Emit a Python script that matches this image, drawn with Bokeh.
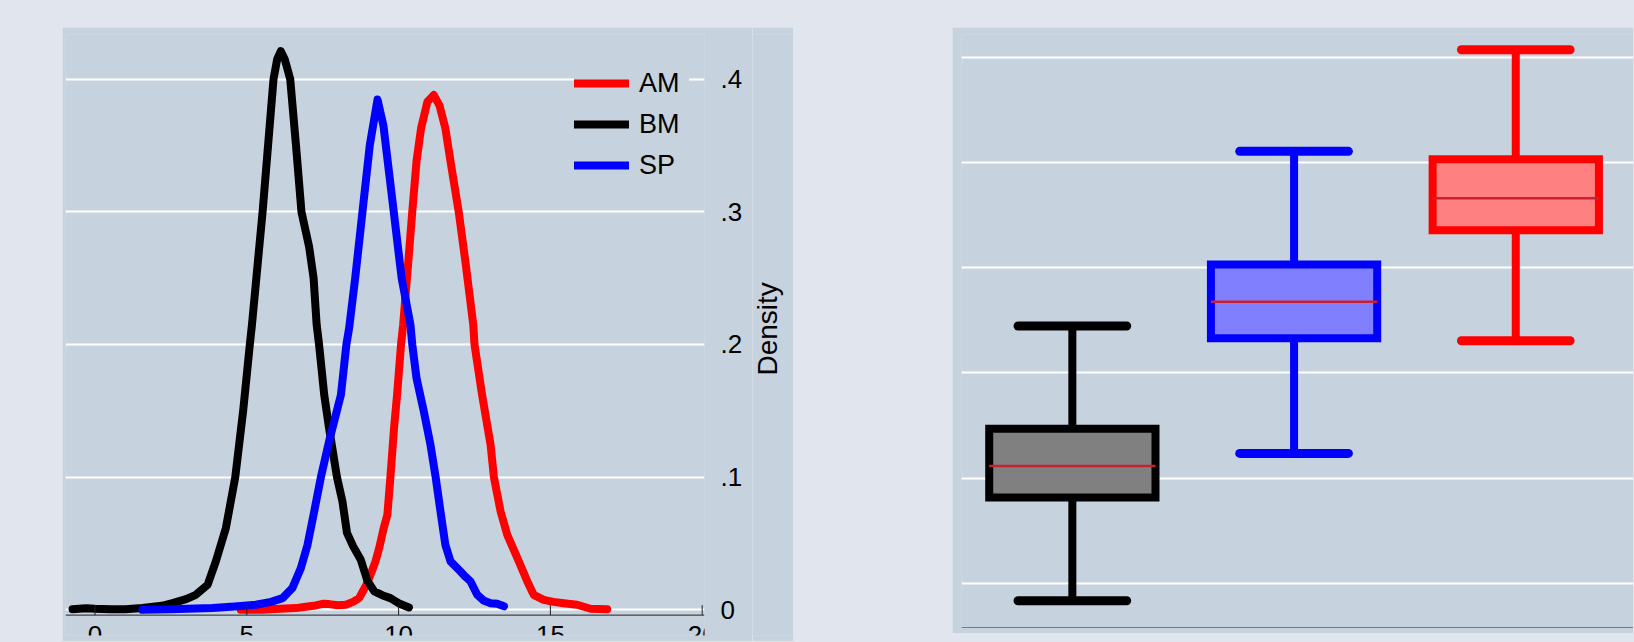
import numpy as np
from bokeh.plotting import figure
from bokeh.models import (FixedTicker, CustomJSTickFormatter, Legend, LegendItem,
                          Span, ColumnDataSource, Range1d, Spacer)
from bokeh.layouts import row, column
from bokeh.embed import file_html
from bokeh.resources import INLINE
from bokeh.core.properties import value

PANEL = "#c6d2de"
OUTER = "#e1e6ee"
FONT = "Liberation Sans"

# ---------------- data: kernel densities ----------------
am_x = [4.8, 5.52, 6.1, 6.61, 7.0, 7.27, 7.5, 7.71, 8.0, 8.26, 8.5, 8.7, 8.94, 9.1, 9.24,
        9.36, 9.51, 9.63, 9.73, 9.85, 9.95, 10.08, 10.15, 10.32, 10.45, 10.59, 10.74, 10.95,
        11.16, 11.35, 11.54, 11.71, 11.98, 12.2, 12.46, 12.5, 12.75, 13.03, 13.14, 13.36,
        13.58, 13.96, 14.24, 14.45, 14.78, 15.1, 15.44, 15.88, 16.32, 16.87]
am_y = [0.0, 0.0, 0.0008, 0.0013, 0.0025, 0.0033, 0.0045, 0.0043, 0.0035, 0.0038, 0.006,
        0.0088, 0.0189, 0.028, 0.0365, 0.0465, 0.0616, 0.0716, 0.1, 0.137, 0.162, 0.2,
        0.2148, 0.2625, 0.3, 0.338, 0.363, 0.383, 0.388, 0.38, 0.363, 0.338, 0.3, 0.2625,
        0.2148, 0.2, 0.162, 0.1244, 0.1, 0.0741, 0.0565, 0.0365, 0.0214, 0.0113, 0.0075,
        0.006, 0.005, 0.0038, 0.0008, 0.0005]

bm_x = [-0.74, -0.3, 0.0, 0.5, 1.0, 1.56, 2.2, 2.55, 3.0, 3.32, 3.71, 3.98, 4.31, 4.62,
        4.88, 5.1, 5.17, 5.52, 5.88, 6.0, 6.12, 6.25, 6.43, 6.62, 6.8, 7.05, 7.2, 7.3,
        7.38, 7.55, 7.71, 7.97, 8.15, 8.3, 8.5, 8.75, 8.97, 9.2, 9.46, 9.73, 10.0, 10.34]
bm_y = [0.0005, 0.0012, 0.0008, 0.0005, 0.0005, 0.0013, 0.003, 0.005, 0.008, 0.0113,
        0.0189, 0.0365, 0.0616, 0.1, 0.15, 0.2, 0.215, 0.3, 0.4, 0.415, 0.421, 0.415, 0.4,
        0.35, 0.3, 0.274, 0.25, 0.215, 0.2, 0.162, 0.137, 0.1, 0.0817, 0.058, 0.048, 0.038,
        0.022, 0.0139, 0.011, 0.0088, 0.005, 0.0018]

sp_x = [1.56, 2.5, 3.87, 4.6, 5.3, 5.8, 6.18, 6.5, 6.78, 7.0, 7.22, 7.44, 7.71, 7.9, 8.1,
        8.28, 8.37, 8.57, 8.81, 9.05, 9.305, 9.5, 9.84, 10.1, 10.39, 10.45, 10.59, 10.83,
        11.05, 11.22, 11.38, 11.54, 11.71, 12.04, 12.2, 12.37, 12.59, 12.8, 13.03, 13.25, 13.47]
sp_y = [0.0, 0.0005, 0.0013, 0.0025, 0.0038, 0.006, 0.0088, 0.0164, 0.0314, 0.049, 0.0741,
        0.1, 0.127, 0.144, 0.162, 0.2, 0.2123, 0.25, 0.3, 0.35, 0.3846, 0.365, 0.3, 0.25,
        0.2148, 0.2, 0.1746, 0.1495, 0.1244, 0.1, 0.0741, 0.049, 0.0365, 0.0289, 0.025,
        0.0214, 0.0113, 0.007, 0.005, 0.0045, 0.0026]

density_ticks = [0, 0.1, 0.2, 0.3, 0.4]
density_tick_labels = ["0", ".1", ".2", ".3", ".4"]
x_ticks = [0, 5, 10, 15, 20]
x_tick_labels = ["0", "5", "10", "15", "20"]
y_title = "Density"

# ---------------- data: box plots ----------------
groups = ["BM", "SP", "AM"]
group_pos = [1, 2, 3]
lower_adj = [3.67, 6.47, 8.61]
q1 = [5.63, 8.66, 10.71]
median = [6.23, 9.35, 11.32]
q3 = [6.94, 10.06, 12.06]
upper_adj = [8.89, 12.21, 14.14]
box_line = ["#000000", "#0000ff", "#ff0000"]
box_fill = ["#808080", "#8080ff", "#ff8080"]
box_grid_ticks = [4, 6, 8, 10, 12, 14]

# ---------------- left: densities ----------------
PX_PER_UNIT = 1327.8          # vertical pixels per density unit
yr = Range1d(-0.01936, 0.43363)
AXIS_Y = -5.3 / PX_PER_UNIT   # x-axis line sits just under the zero grid line
TICK_LEN = 10 / PX_PER_UNIT
LABEL_Y = -16.3 / PX_PER_UNIT

p1 = figure(width=690, height=614, x_range=Range1d(-0.972, 20.076), y_range=yr,
            y_axis_location="right", x_axis_location=None, title=None,
            output_backend="svg", toolbar_location=None, min_border=0,
            min_border_left=3, min_border_right=48, min_border_top=7, min_border_bottom=0)
p1.background_fill_color = PANEL
p1.border_fill_color = PANEL
p1.outline_line_color = None

p1.xgrid.visible = False
p1.ygrid.ticker = FixedTicker(ticks=density_ticks)
p1.ygrid.grid_line_color = "white"
p1.ygrid.grid_line_width = 2

lw = 8
r_am = p1.line(am_x, am_y, line_color="#ff0000", line_width=lw, line_join="round", line_cap="round")
r_bm = p1.line(bm_x, bm_y, line_color="#000000", line_width=lw, line_join="round", line_cap="round")
r_sp = p1.line(sp_x, sp_y, line_color="#0000ff", line_width=lw, line_join="round", line_cap="round")

ya = p1.yaxis[0]
ya.ticker = FixedTicker(ticks=density_ticks)
ya.formatter = CustomJSTickFormatter(args=dict(tvals=density_ticks, tlabs=density_tick_labels),
    code="const i = tvals.findIndex(t => Math.abs(t - tick) < 1e-9); return i >= 0 ? tlabs[i] : '';")
ya.axis_line_color = None
ya.major_tick_line_color = None
ya.minor_tick_line_color = None
ya.major_label_standoff = 10
ya.major_label_text_font = FONT
ya.major_label_text_font_size = "26px"
ya.major_label_text_color = "#000000"

# x axis: line, inward ticks and (partly cropped) tick labels
p1.add_layout(Span(location=AXIS_Y, dimension="width", line_color="#222222", line_width=1))
p1.segment(x0=x_ticks, x1=x_ticks, y0=[AXIS_Y] * len(x_ticks),
           y1=[AXIS_Y + TICK_LEN] * len(x_ticks), line_color="#222222", line_width=1)
p1.text(x=x_ticks, y=[LABEL_Y] * len(x_ticks), text=x_tick_labels,
        text_font=value(FONT), text_font_size="26px", text_color="#000000",
        text_align="center", text_baseline="top")

legend = Legend(items=[LegendItem(label="AM", renderers=[r_am]),
                       LegendItem(label="BM", renderers=[r_bm]),
                       LegendItem(label="SP", renderers=[r_sp])],
                location=(509, 452), orientation="vertical",
                glyph_width=55, glyph_height=36, label_height=36, label_width=50,
                label_standoff=10, spacing=5, padding=8, margin=0,
                label_text_font=FONT, label_text_font_size="27px", label_text_color="#000000",
                background_fill_color=PANEL, background_fill_alpha=1.0,
                border_line_color=None)
p1.add_layout(legend)

# narrow strip holding the y-axis title (reads bottom-to-top)
p1b = figure(width=41, height=614, x_range=Range1d(0, 1), y_range=yr,
             x_axis_location=None, y_axis_location=None, title=None,
             output_backend="svg", toolbar_location=None, min_border=0,
             min_border_left=0, min_border_right=0, min_border_top=7, min_border_bottom=0)
p1b.background_fill_color = PANEL
p1b.border_fill_color = PANEL
p1b.outline_line_color = None
p1b.grid.visible = False
p1b.text(x=[0.37], y=[0.2118], text=[y_title], angle=np.pi / 2,
         text_font=value(FONT), text_font_size="28px", text_color="#000000",
         text_align="center", text_baseline="middle")

# ---------------- right: box plots ----------------
p2 = figure(width=681, height=606, x_range=Range1d(0.5, 3.531),
            y_range=Range1d(3.162, 14.430), output_backend="svg", toolbar_location=None,
            x_axis_location=None, y_axis_location=None, title=None, min_border=0,
            min_border_left=9, min_border_right=0, min_border_top=0, min_border_bottom=6)
p2.background_fill_color = PANEL
p2.border_fill_color = PANEL
p2.outline_line_color = None
p2.xgrid.visible = False
p2.ygrid.ticker = FixedTicker(ticks=box_grid_ticks)
p2.ygrid.grid_line_color = "white"
p2.ygrid.grid_line_width = 2
p2.add_layout(Span(location=p2.y_range.start, dimension="width",
                   line_color="#222222", line_width=1))

bsrc = ColumnDataSource(dict(g=group_pos, lo=lower_adj, q1=q1, med=median, q3=q3, hi=upper_adj,
                             lc=box_line, fc=box_fill))
p2.segment(x0="g", y0="q3", x1="g", y1="hi", source=bsrc, line_color="lc", line_width=8)
p2.segment(x0="g", y0="q1", x1="g", y1="lo", source=bsrc, line_color="lc", line_width=8)
p2.vbar(x="g", width=0.75, bottom="q1", top="q3", source=bsrc, fill_color="fc",
        line_color="lc", line_width=8, line_join="miter")
gp = np.array(group_pos, dtype=float)
p2.segment(x0=gp - 0.375, x1=gp + 0.375, y0=median, y1=median,
           line_color="#cc2030", line_width=2.5)
for vals in (upper_adj, lower_adj):
    p2.segment(x0=gp - 0.245, x1=gp + 0.245, y0=vals, y1=vals,
               line_color=box_line, line_width=9, line_cap="round")

layout = column(Spacer(width=1633, height=27),
                row(Spacer(width=62, height=614), p1, p1b, Spacer(width=159, height=614), p2))

html = file_html(layout, INLINE, title="Densities and box plots")
html = html.replace("</head>", "<style>body{background-color:%s;}</style></head>" % OUTER, 1)
open("out.html", "w").write(html)
